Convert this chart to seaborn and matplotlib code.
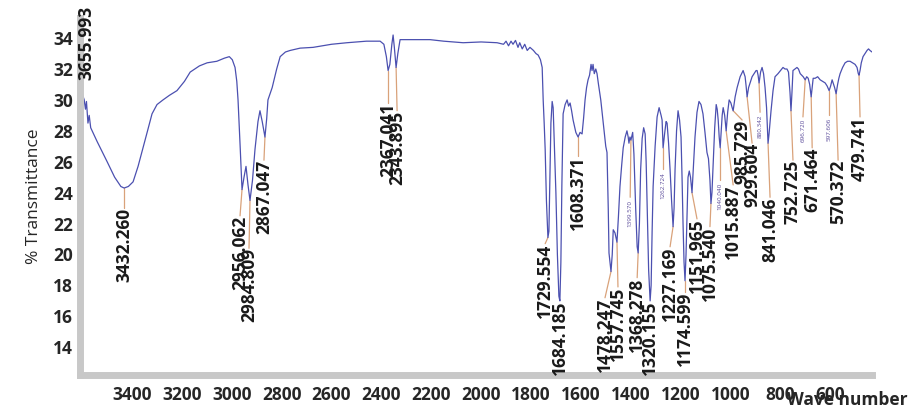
import numpy as np
import pandas as pd
import matplotlib
matplotlib.use('Agg')
import matplotlib.pyplot as plt
import seaborn as sns

# spectrum (wave number, % transmittance)
wavenumber = [3608, 3600, 3592, 3587, 3583, 3577, 3572, 3566, 3540, 3500, 3470, 3445, 3432, 3415, 3396,
              3376, 3356, 3338, 3320, 3300, 3276, 3250, 3220, 3190, 3167, 3130, 3099, 3060, 3030, 3010,
              2998, 2987, 2980, 2975, 2970, 2966, 2959, 2951, 2943, 2935, 2927, 2917, 2907, 2895, 2887,
              2878, 2867, 2860, 2855, 2838, 2820, 2806, 2785, 2766, 2726, 2674, 2600, 2538, 2460, 2405,
              2390, 2380, 2373, 2366, 2358, 2353, 2348, 2341, 2334, 2325, 2300, 2205, 2150, 2072, 2000,
              1936, 1910, 1900, 1890, 1880, 1872, 1862, 1852, 1845, 1835, 1825, 1815, 1804, 1790, 1780,
              1771, 1762, 1755, 1751, 1747, 1743, 1738, 1732, 1728, 1724, 1720, 1715, 1711, 1706, 1700,
              1694, 1688, 1684, 1680, 1676, 1671, 1663, 1655, 1649, 1643, 1637, 1631, 1620, 1611, 1603,
              1595, 1589, 1583, 1577, 1571, 1565, 1559, 1555, 1551, 1546, 1540, 1535, 1530, 1520, 1510,
              1500, 1495, 1490, 1487, 1479, 1474, 1470, 1463, 1455, 1449, 1443, 1436, 1430, 1422, 1415,
              1410, 1407, 1403, 1399, 1392, 1387, 1380, 1374, 1370, 1365, 1360, 1354, 1348, 1342, 1338,
              1333, 1328, 1322, 1318, 1314, 1310, 1302, 1294, 1286, 1278, 1274, 1270, 1264, 1258, 1254,
              1248, 1242, 1236, 1230, 1226, 1222, 1216, 1210, 1204, 1198, 1194, 1190, 1186, 1182, 1178,
              1174, 1170, 1165, 1160, 1154, 1148, 1142, 1134, 1126, 1118, 1110, 1102, 1094, 1088, 1082,
              1078, 1074, 1070, 1063, 1057, 1053, 1049, 1045, 1041, 1037, 1033, 1029, 1023, 1017, 1011,
              1005, 998, 993, 989, 981, 973, 961, 949, 941, 937, 933, 927, 921, 913, 905,
              897, 893, 889, 885, 879, 873, 867, 861, 855, 849, 845, 837, 829, 821, 809,
              799, 789, 781, 773, 767, 761, 757, 753, 749, 741, 733, 727, 720, 714, 708,
              700, 694, 688, 682, 676, 672, 668, 660, 650, 640, 630, 620, 612, 604, 598,
              592, 588, 582, 576, 570, 565, 560, 550, 540, 530, 520, 510, 500, 492, 487,
              484, 480, 475, 468, 460, 452, 446, 440, 432]
transmittance = [30.8, 30.4, 30.0, 29.4, 29.9, 28.5, 29.0, 28.2, 27.3, 26.0, 25.0, 24.4, 24.3, 24.4, 24.7,
                 25.7, 26.9, 28.0, 29.1, 29.7, 30.0, 30.3, 30.6, 31.2, 31.8, 32.2, 32.4, 32.5, 32.7, 32.8,
                 32.6, 32.1, 31.2, 30.0, 28.3, 26.8, 24.2, 25.0, 25.7, 24.5, 23.5, 24.8, 26.8, 28.6, 29.3,
                 28.6, 27.6, 28.8, 30.0, 30.8, 32.0, 32.8, 33.1, 33.2, 33.35, 33.4, 33.6, 33.7, 33.8, 33.8,
                 33.6, 32.8, 31.9, 32.3, 33.6, 34.2, 33.4, 32.1, 33.0, 33.9, 33.9, 33.9, 33.8, 33.7, 33.75,
                 33.7, 33.6, 33.8, 33.5, 33.8, 33.6, 33.85, 33.4, 33.7, 33.3, 33.6, 33.2, 33.4, 33.2, 33.0,
                 32.9, 32.6, 32.1, 30.0, 28.5, 26.8, 23.5, 21.1, 21.5, 25.0, 28.5, 29.9, 29.5, 27.0, 24.0,
                 20.0, 17.3, 17.0, 19.5, 24.5, 29.1, 29.7, 30.0, 29.6, 29.8, 29.3, 28.7, 27.9, 27.6, 27.9,
                 27.8, 28.8, 30.0, 30.8, 31.3, 31.6, 32.3, 31.9, 32.3, 31.7, 32.0, 31.7, 31.1, 30.0, 28.5,
                 27.0, 26.6, 23.0, 20.1, 18.9, 20.0, 21.6, 21.4, 20.8, 22.5, 24.4, 25.8, 26.9, 27.6, 28.0,
                 27.6, 27.2, 27.6, 27.4, 27.9, 26.5, 23.0, 20.5, 20.1, 22.0, 25.5, 27.5, 28.2, 27.8, 26.0,
                 22.5, 19.0, 17.0, 18.0, 21.5, 24.4, 27.0, 28.9, 29.5, 29.0, 28.7, 26.9, 27.8, 28.6, 28.5,
                 27.2, 25.5, 23.5, 21.8, 23.0, 25.5, 28.0, 29.3, 28.7, 27.6, 25.0, 22.0, 19.5, 18.3, 20.0,
                 22.5, 25.0, 25.4, 25.0, 24.0, 25.8, 27.6, 29.2, 29.9, 29.7, 29.1, 27.9, 26.6, 26.2, 24.8,
                 23.3, 24.0, 25.5, 28.2, 29.7, 29.4, 28.7, 27.6, 26.9, 28.0, 29.0, 29.5, 29.0, 28.0, 29.2,
                 30.0, 29.8, 29.5, 29.3, 30.2, 30.8, 31.5, 31.9, 31.5, 30.9, 30.2, 30.8, 31.1, 31.5, 31.7,
                 31.9, 31.9, 31.6, 31.1, 31.8, 32.1, 31.7, 30.8, 29.5, 27.2, 27.8, 29.3, 30.6, 31.5, 31.7,
                 31.9, 32.1, 32.0, 32.0, 31.8, 30.5, 29.3, 30.5, 31.9, 32.0, 32.1, 32.0, 31.7, 31.6, 31.5,
                 31.3, 31.5, 31.4, 31.0, 30.2, 30.8, 31.4, 31.4, 31.5, 31.3, 31.2, 31.1, 30.9, 30.6, 30.9,
                 31.3, 31.1, 30.8, 30.4, 31.0, 31.4, 31.7, 32.1, 32.4, 32.5, 32.5, 32.4, 32.3, 32.1, 31.7,
                 31.6, 31.9, 32.4, 32.8, 33.0, 33.2, 33.3, 33.2, 33.1]

# peak labels: text, where the peak is, where the label sits (x, top of text)
peak_text = ['3655.993', '3432.260', '2956.062', '2984.809', '2867.047', '2367.041', '2343.895',
             '1729.554', '1684.185', '1608.371', '1478.247', '1557.745', '1368.278', '1320.155',
             '1227.169', '1174.599', '1151.965', '1075.540', '1015.887', '985.729', '929.604',
             '841.046', '752.725', '671.464', '570.372', '479.741']
peak_x = [3585, 3432, 2959, 2927, 2867, 2373, 2341, 1732, 1684, 1611, 1479, 1455, 1370, 1322,
          1230, 1182, 1154, 1078, 1017, 989, 933, 849, 757, 676, 576, 484]
peak_y = [36.1, 24.3, 24.2, 23.5, 27.6, 31.9, 32.1, 21.1, 17.0, 27.6, 18.9, 20.8, 20.1, 17.0,
          21.8, 18.3, 24.0, 23.3, 28.0, 29.3, 30.2, 27.2, 29.3, 30.2, 30.4, 31.6]
label_x = [3585, 3432, 2967, 2931, 2871, 2373, 2337, 1743, 1683, 1611, 1503, 1451, 1374, 1322,
           1242, 1182, 1134, 1082, 989, 953, 913, 841, 749, 672, 568, 480]
label_y = [36.1, 23.0, 22.5, 20.4, 26.1, 29.8, 29.3, 20.7, 17.0, 26.4, 17.2, 17.9, 18.5, 17.0,
           20.5, 17.6, 22.3, 21.8, 24.5, 28.7, 27.2, 23.7, 26.1, 26.9, 26.1, 28.9]

# the small purple labels
small_text = ['1399.570', '1262.724', '1040.040', '880.342', '696.720', '597.606']
small_peak_x = [1399, 1270, 1041, 885, 700, 604]
small_peak_y = [27.4, 26.9, 26.9, 31.1, 31.3, 30.6]
small_label_x = [1402, 1270, 1041, 881, 709, 604]
small_label_y = [23.7, 25.5, 24.8, 29.2, 28.9, 29.0]

sns.set_style('white')
plt.rcParams['font.family'] = ['Open Sans', 'DejaVu Sans']

df = pd.DataFrame({'wn': wavenumber, 't': transmittance})

fig = plt.figure(figsize=(9.13, 4.09), dpi=100)
ax = fig.add_axes([0.0876, 0.083, 0.8675, 0.873])
sns.lineplot(data=df, x='wn', y='t', estimator=None, sort=False, color='#4b50b0', linewidth=0.9, ax=ax)

ax.set_xlim(3609, 432)
ax.set_ylim(12.2, 35.3)

leader = '#d9a27a'
for t, px, py, lx, ly in zip(peak_text, peak_x, peak_y, label_x, label_y):
    if py > ly + 0.1:
        ax.plot([px, lx], [py, ly], color=leader, linewidth=0.9, zorder=1)
    ax.text(lx, ly, t, rotation=90, ha='center', va='top', fontsize=12.5,
            fontweight='bold', color='#1a1a1a', clip_on=False)
for t, px, py, lx, ly in zip(small_text, small_peak_x, small_peak_y, small_label_x, small_label_y):
    ax.plot([px, lx], [py, ly], color=leader, linewidth=0.9, zorder=1)
    ax.text(lx, ly - 0.15, t, rotation=90, ha='center', va='top', fontsize=4.5,
            color='#5a4a9a', clip_on=False)

# axes look: thick grey bars with small red ticks
for s in ['top', 'right']:
    ax.spines[s].set_visible(False)
for s in ['left', 'bottom']:
    ax.spines[s].set_color('#c8c8c8')
    ax.spines[s].set_linewidth(5)

ax.set_xticks(np.arange(3400, 500, -200))
ax.set_xticks(np.arange(3600, 440, -50), minor=True)
ax.set_yticks(np.arange(14, 35, 2))
ax.tick_params(axis='x', which='major', direction='inout', length=4, width=0.8, color='#e07070',
               labelsize=12.5, pad=6)
ax.tick_params(axis='x', which='minor', direction='inout', length=2, width=0.6, color='#e07070')
ax.tick_params(axis='y', which='major', direction='out', length=4, width=0.8, color='#e07070',
               labelsize=12.5, pad=1)
for lab in ax.get_xticklabels() + ax.get_yticklabels():
    lab.set_fontweight('bold')
ax.xaxis.set_zorder(3)
ax.yaxis.set_zorder(3)

ax.set_xlabel('')
ax.set_ylabel('% Transmittance', fontsize=12.5, labelpad=8)
fig.text(0.928, 0.022, 'Wave number', ha='center', va='center', fontsize=12.5, fontweight='bold')

fig.savefig('out.png', dpi=100)
